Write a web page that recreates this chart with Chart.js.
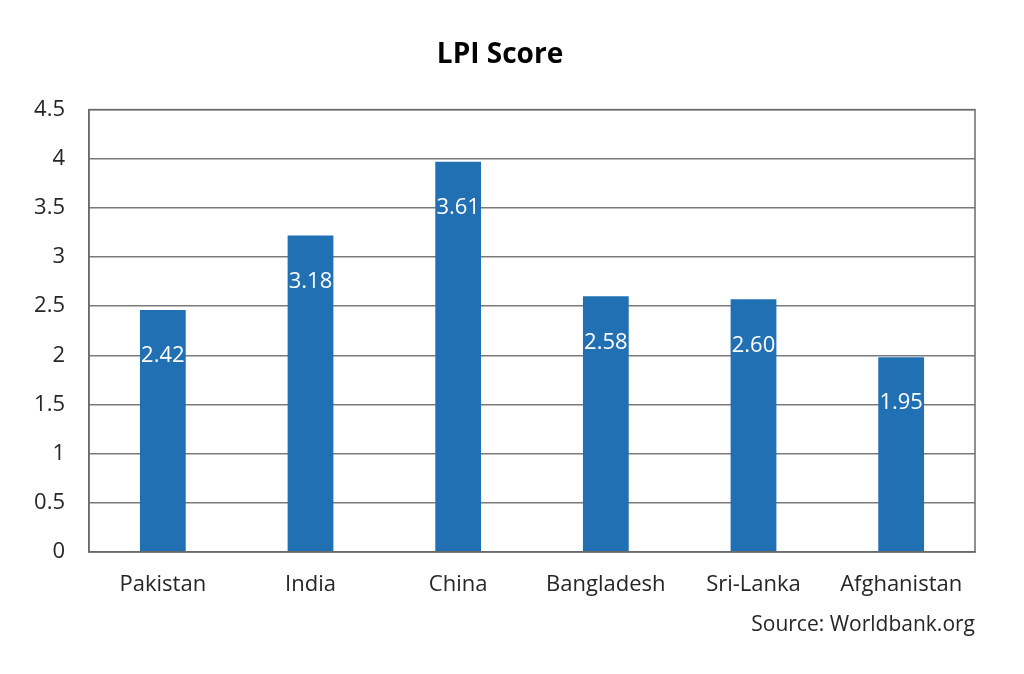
<!DOCTYPE html>
<html>
<head>
<meta charset="utf-8">
<script src="https://cdn.jsdelivr.net/npm/chart.js@4/dist/chart.umd.min.js"></script>
<style>
  html, body { margin: 0; padding: 0; background: #fff; }
  #wrap { width: 1024px; height: 674px; }
</style>
</head>
<body>
<div id="wrap"><canvas id="grafica" width="1024" height="674"></canvas></div>
<script>
// datos
const paises = ['Pakistan', 'India', 'China', 'Bangladesh', 'Sri-Lanka', 'Afghanistan'];
const alturas = [2.46, 3.22, 3.97, 2.60, 2.57, 1.98];   // altura de cada barra
const etiquetas = ['2.42', '3.18', '3.61', '2.58', '2.60', '1.95']; // texto escrito en la barra
const ticksY = [0, 0.5, 1, 1.5, 2, 2.5, 3, 3.5, 4, 4.5];

const fuente = "'Open Sans', sans-serif";
const colorBarra = '#2170b3';

// marco del area de la grafica
const marco = {
    id: 'marco',
    afterDraw(chart) {
        const a = chart.chartArea;
        const ctx = chart.ctx;
        ctx.save();
        ctx.strokeStyle = '#6b6b6b';
        ctx.lineWidth = 1.5;
        ctx.strokeRect(a.left, a.top, a.right - a.left, a.bottom - a.top);
        ctx.restore();
    }
};

// etiquetas blancas dentro de las barras
const etiquetasBarras = {
    id: 'etiquetasBarras',
    afterDatasetsDraw(chart) {
        const ctx = chart.ctx;
        const meta = chart.getDatasetMeta(0);
        ctx.save();
        ctx.fillStyle = '#ffffff';
        ctx.font = '22px ' + fuente;
        ctx.textAlign = 'center';
        ctx.textBaseline = 'middle';
        meta.data.forEach((bar, i) => {
            ctx.fillText(etiquetas[i], bar.x, bar.y + 46);
        });
        ctx.restore();
    }
};

new Chart(document.getElementById('grafica'), {
    type: 'bar',
    data: {
        labels: paises,
        datasets: [{
            data: alturas,
            backgroundColor: colorBarra,
            borderWidth: 0,
            barPercentage: 0.31,
            categoryPercentage: 1
        }]
    },
    options: {
        responsive: false,
        animation: false,
        layout: { padding: { left: 25, right: 49, top: 0, bottom: 28 } },
        plugins: {
            legend: { display: false },
            tooltip: { enabled: false },
            title: {
                display: true,
                text: 'LPI Score',
                color: '#000',
                font: { family: fuente, size: 28, weight: 'bold' },
                padding: { top: 38, bottom: 38 }
            },
            subtitle: {
                display: true,
                position: 'bottom',
                align: 'end',
                text: 'Source: Worldbank.org',
                color: '#262626',
                font: { family: fuente, size: 21 },
                padding: { top: 11, bottom: 8 }
            }
        },
        scales: {
            x: {
                grid: { display: false },
                border: { color: '#6b6b6b', width: 1.5 },
                ticks: { color: '#262626', font: { family: fuente, size: 22 }, padding: 12, maxRotation: 0 },
                afterFit(s) { s.height = 50; }
            },
            y: {
                min: 0,
                max: 4.5,
                afterBuildTicks(s) { s.ticks = ticksY.map(v => ({ value: v })); },
                grid: { color: '#7a7a7a', lineWidth: 1.5, drawTicks: false },
                border: { color: '#6b6b6b', width: 1.5 },
                ticks: {
                    color: '#262626',
                    font: { family: fuente, size: 22 },
                    padding: 24,
                    callback: v => String(v)
                },
                afterFit(s) { s.width = 64; }
            }
        }
    },
    plugins: [marco, etiquetasBarras]
});
</script>
</body>
</html>
